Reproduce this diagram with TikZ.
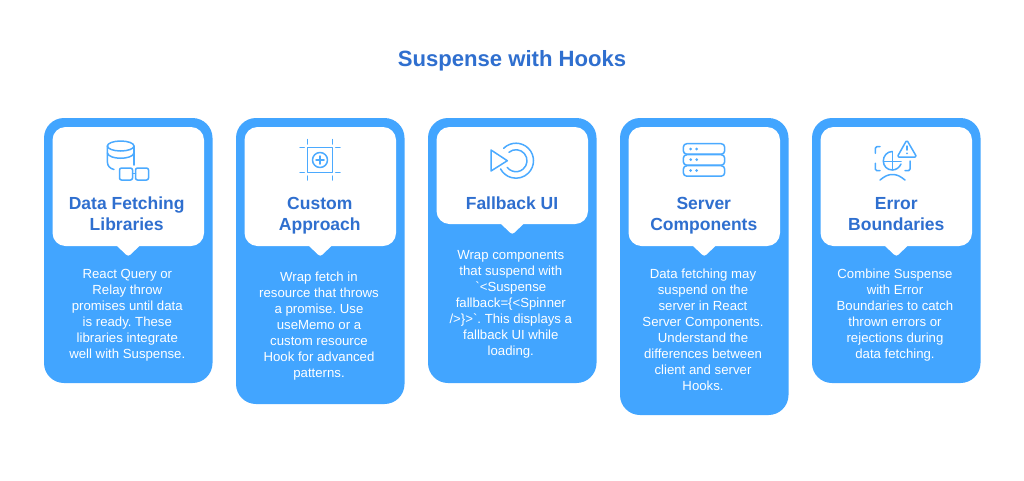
\documentclass[tikz,border=0pt]{standalone}
\usepackage{fontspec}
\setmainfont{Liberation Sans}
\frenchspacing
\definecolor{cardblue}{HTML}{42A5FF}
\definecolor{headblue}{HTML}{2F6FCF}
\definecolor{iconblue}{HTML}{4BAAFF}
\tikzset{
  cardbg/.style={fill=cardblue,draw=none,rounded corners=20pt},
  panel/.style={fill=white,draw=none,rounded corners=13pt},
  panelfill/.style={fill=white,draw=none},
  headtext/.style={text=headblue,align=center,font=\fontsize{17.5}{21}\selectfont\bfseries,inner sep=0pt},
  bodytext/.style={text=white,align=center,font=\fontsize{13.2}{16}\selectfont,inner sep=0pt},
  titletext/.style={text=headblue,font=\fontsize{22.1}{27}\selectfont\bfseries,inner sep=0pt},
  iconline/.style={draw=iconblue,line width=1.5pt,line cap=round,line join=round},
  icondot/.style={fill=iconblue,draw=none}
}
% #1 left x, #2 card bottom y, #3 panel bottom y
\newcommand{\cardshape}[3]{%
  \fill[cardbg] (#1,118) rectangle (#1+168.5,#2);
  \fill[panel] (#1+8.5,127) rectangle (#1+160,#3);
  \fill[panelfill] (#1+72.5,#3-0.5) -- (#1+96,#3-0.5) -- (#1+86.5,#3+8.5)
     .. controls (#1+85,#3+10) and (#1+83.5,#3+10) .. (#1+82,#3+8.5) -- cycle;
}
\begin{document}
\begin{tikzpicture}[x=1pt,y=-1pt]
\useasboundingbox (0,0) rectangle (1024,480);
\fill[white] (0,0) rectangle (1024,480);
\node[titletext] (title) at (512,60.5) {Suspense with Hooks};

\cardshape{44}{383}{246}
\cardshape{236}{404}{246}
\cardshape{428}{383}{224}
\cardshape{620}{415}{246}
\cardshape{812}{383}{246}

\node[headtext] (h1) at (126.7,213.5) {Data Fetching\\Libraries};
\node[headtext] (h2) at (319.8,215.4) {Custom\\Approach};
\node[headtext] (h3) at (512,203) {Fallback UI};
\node[headtext] (h4) at (703.8,215.4) {Server\\Components};
\node[headtext] (h5) at (896.3,214.5) {Error\\Boundaries};

\node[bodytext] (b1) at (127.3,315.3) {React Query or\\Relay throw\\promises until data\\is ready. These\\libraries integrate\\well with Suspense.};
\node[bodytext] (b2) at (319,326.1) {Wrap fetch in\\resource that throws\\a promise. Use\\useMemo or a\\custom resource\\Hook for advanced\\patterns.};
\node[bodytext] (b3) at (510.8,304.6) {Wrap components\\that suspend with\\\textasciigrave<Suspense\\fallback=\{<Spinner\\/>\}>\textasciigrave. This displays a\\fallback UI while\\loading.};
\node[bodytext] (b4) at (703,329.9) {Data fetching may\\suspend on the\\server in React\\Server Components.\\Understand the\\differences between\\client and server\\Hooks.};
\node[bodytext] (b5) at (895,315.3) {Combine Suspense\\with Error\\Boundaries to catch\\thrown errors or\\rejections during\\data fetching.};

% icon 1: database and glasses
\draw[iconline] (120.7,146) ellipse[x radius=13.3,y radius=5];
\draw[iconline] (107.4,153) .. controls (109,160) and (132.4,160) .. (134,153);
\draw[iconline] (107.4,146) -- (107.4,162) .. controls (107.4,166) and (110,168.5) .. (114,169.5);
\draw[iconline] (134,146) -- (134,165);
\draw[iconline,rounded corners=2pt] (119.5,168) rectangle (132.5,180);
\draw[iconline,rounded corners=2pt] (135.5,168) rectangle (148.5,180);
\draw[iconline] (132.5,173.5) -- (135.5,173.5);

% icon 2: frame with plus
\draw[iconline] (307.3,147.3) rectangle (332.7,172.7);
\draw[iconline] (320,160) circle[radius=7.5];
\draw[iconline] (316,160) -- (324,160) (320,156) -- (320,164);
\draw[iconline] (307.3,139.5) -- (307.3,144) (332.7,139.5) -- (332.7,144)
  (307.3,176) -- (307.3,180) (332.7,176) -- (332.7,180)
  (300,147.3) -- (304.3,147.3) (335.7,147.3) -- (340,147.3)
  (300,172.7) -- (304.3,172.7) (335.7,172.7) -- (340,172.7);

% icon 3: play and circles
\draw[iconline] (491,150) -- (491,171) -- (507.3,160.7) -- cycle;
\draw[iconline] (516,160.7) ++(-135:17.5) arc[start angle=-135,end angle=152,radius=17.5];
\draw[iconline] (516,160.7) ++(-130:11) arc[start angle=-130,end angle=143,radius=11];

% icon 4: server
\draw[iconline,rounded corners=3.5pt] (683.3,143.7) rectangle (724.7,154.2);
\draw[iconline,rounded corners=3.5pt] (683.3,154.7) rectangle (724.7,165.2);
\draw[iconline,rounded corners=3.5pt] (683.3,165.7) rectangle (724.7,176.2);
\foreach \dy in {149,159.7,170.5}{
  \fill[icondot] (690.7,\dy) circle[radius=1.5];
  \fill[icondot] (696.7,\dy) circle[radius=1.5];
}

% icon 5: error
\draw[iconline,rounded corners=1.5pt] (880,146.7) -- (875.3,146.7) -- (875.3,153.3);
\draw[iconline,rounded corners=1.5pt] (875.3,163.3) -- (875.3,170.7) -- (880,170.7);
\draw[iconline,rounded corners=1.5pt] (905,170.7) -- (910,170.7) -- (910,161);
\draw[iconline] (892.3,151.5) -- (892.3,170) (883.5,161.5) -- (901,161.5);
\draw[iconline] (892.3,151.5) .. controls (887,151.5) and (883.3,156) .. (883.3,161) .. controls (883.3,166) and (887,170) .. (892.3,170) .. controls (896,170) and (899.5,167.5) .. (901,164);
\draw[iconline] (880,180) .. controls (885,176) and (888,174.5) .. (892.3,174.5) .. controls (897,174.5) and (900,176) .. (905,180);
\draw[iconline,rounded corners=1.5pt] (906.8,140) -- (916.7,157) -- (897.2,157) -- cycle;
\draw[iconline] (907,146) -- (907,150);
\fill[icondot] (907,153.3) circle[radius=1];
\end{tikzpicture}
\end{document}
